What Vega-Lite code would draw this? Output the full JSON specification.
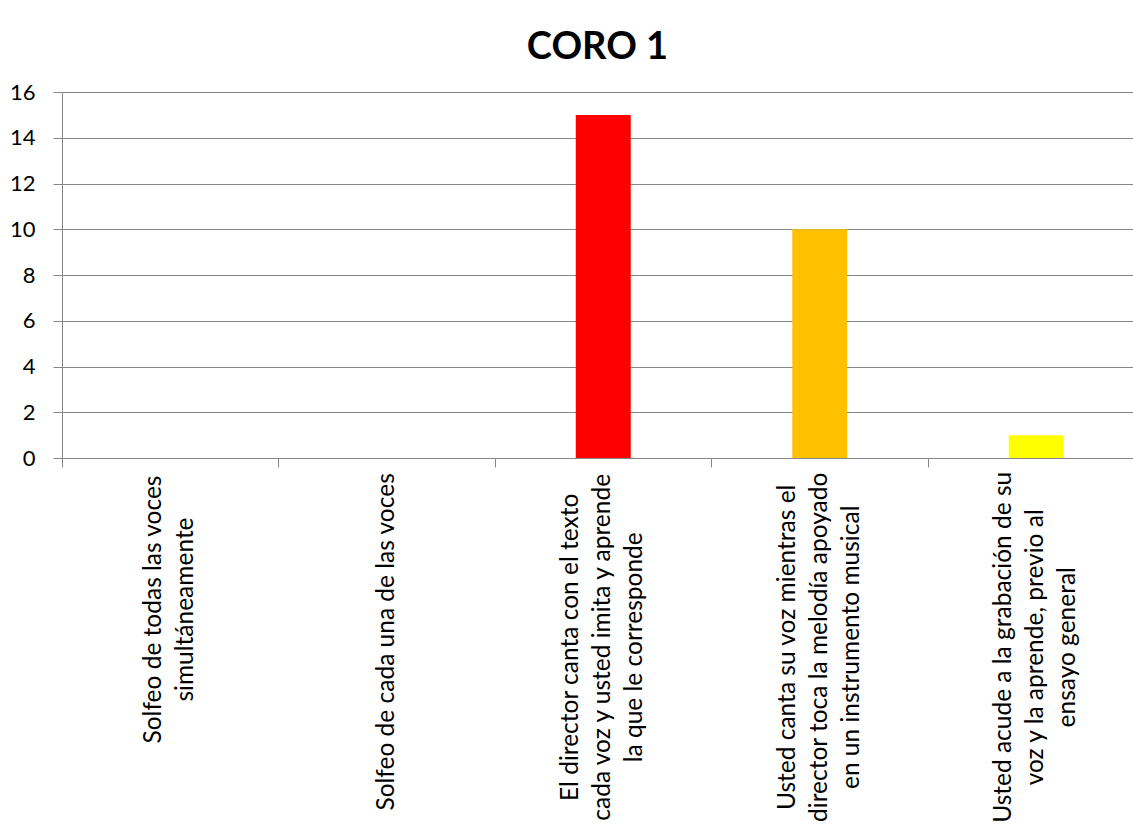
{
  "$schema": "https://vega.github.io/schema/vega-lite/v6.json",
  "autosize": {"type": "none"},
  "width": 1071,
  "height": 366,
  "padding": {"left": 62, "top": 92, "right": 0, "bottom": 370},
  "background": "white",
  "title": {
    "text": "CORO 1",
    "font": "Lato",
    "fontSize": 38,
    "fontWeight": "bold",
    "color": "black",
    "anchor": "middle",
    "offset": 14
  },
  "data": {
    "values": [
      {"categoria": "Solfeo de todas las voces\nsimultáneamente", "valor": 0},
      {"categoria": "Solfeo de cada una de las voces", "valor": 0},
      {"categoria": "El director canta con el texto\ncada voz y usted imita y aprende\nla que le corresponde", "valor": 15},
      {"categoria": "Usted canta su voz mientras el\ndirector toca la melodía apoyado\nen un instrumento musical", "valor": 10},
      {"categoria": "Usted acude a la grabación de su\nvoz y la aprende, previo al\nensayo general", "valor": 1}
    ]
  },
  "mark": {"type": "bar", "width": {"band": 0.254}},
  "encoding": {
    "x": {
      "field": "categoria",
      "type": "nominal",
      "sort": null,
      "scale": {"range": [0, 1082.5], "paddingInner": 0, "paddingOuter": 0},
      "axis": {
        "title": null,
        "labelAngle": -90,
        "labelAlign": "center",
        "labelBaseline": "middle",
        "labelExpr": "split(datum.value, '\\n')",
        "labelPadding": {"expr": "7 + 5.4 * max(length(split(datum.value, '\\n')[0]), length(split(datum.value, '\\n')[1] || ''), length(split(datum.value, '\\n')[2] || ''))"},
        "labelOffset": {"expr": "-16 * (length(split(datum.value, '\\n')) - 1)"},
        "labelFont": "Lato",
        "labelFontSize": 24.5,
        "labelLineHeight": 32,
        "labelColor": "black",
        "labelLimit": 0,
        "labelOverlap": false,
        "bandPosition": 0,
        "tickSize": 9,
        "tickColor": "#868686",
        "domainColor": "#868686",
        "grid": false
      }
    },
    "y": {
      "field": "valor",
      "type": "quantitative",
      "scale": {"domain": [0, 16], "nice": false},
      "axis": {
        "title": null,
        "values": [0, 2, 4, 6, 8, 10, 12, 14, 16],
        "labelFont": "Lato",
        "labelFontSize": 22,
        "labelColor": "black",
        "labelPadding": 18,
        "tickSize": 9,
        "tickColor": "#868686",
        "domainColor": "#868686",
        "gridColor": "#868686",
        "gridOpacity": 1,
        "grid": true
      }
    },
    "color": {
      "field": "categoria",
      "type": "nominal",
      "sort": null,
      "legend": null,
      "scale": {"range": ["#4F81BD", "#C0504D", "#FF0000", "#FFC000", "#FFFF00"]}
    }
  },
  "config": {"view": {"stroke": null}}
}
